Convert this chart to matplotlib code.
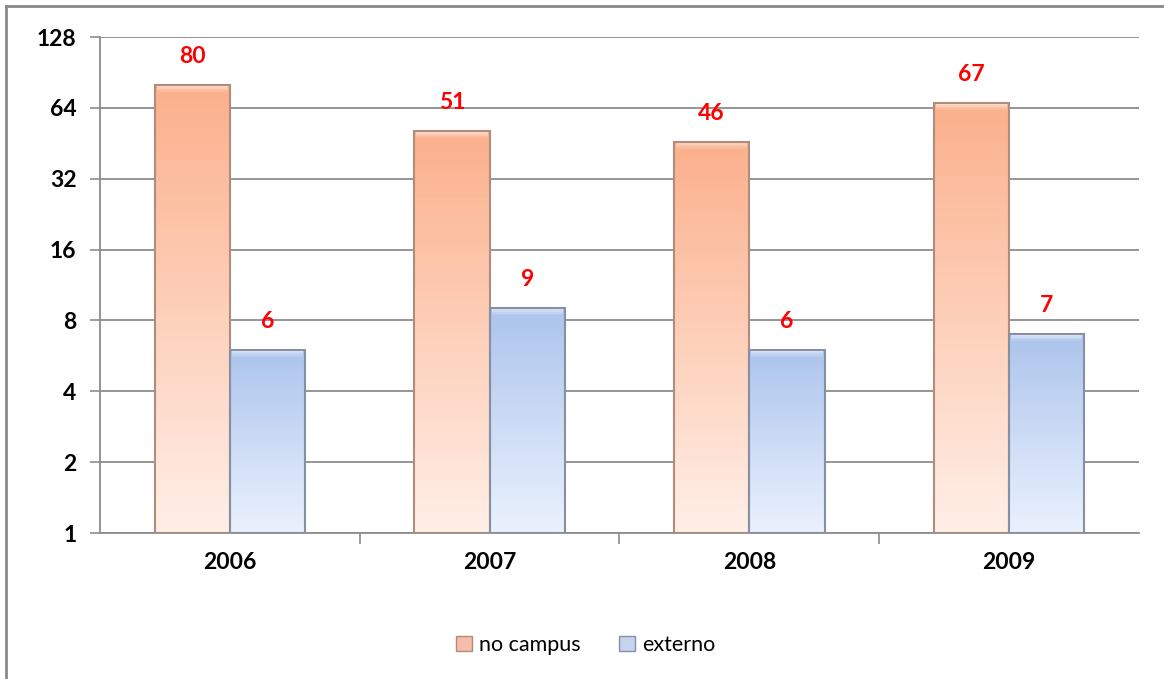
import numpy as np
import matplotlib
matplotlib.use("Agg")
import matplotlib.pyplot as plt
from matplotlib.patches import Patch
from matplotlib.lines import Line2D

years = ["2006", "2007", "2008", "2009"]
no_campus = [80, 51, 46, 67]
externo = [6, 9, 6, 7]
y_ticks = [1, 2, 4, 8, 16, 32, 64, 128]

plt.rcParams['font.family'] = ['Lato', 'DejaVu Sans']

fig = plt.figure(figsize=(11.64, 6.79), dpi=100)
ax = fig.add_axes([0.0859, 0.215, 0.8926, 0.7305])

x = np.arange(len(years))
w = 0.29

# gradient colours: top -> bottom of each bar
orange_top = np.array([251, 176, 140]) / 255
orange_bot = np.array([255, 238, 230]) / 255
blue_top = np.array([172, 196, 236]) / 255
blue_bot = np.array([234, 241, 253]) / 255


def gradient_bar(xl, value, c_top, c_bot, edge, n=60):
    # stack thin slices in log space so the fill fades from top to bottom
    edges = np.logspace(0, np.log2(value), n + 1, base=2)
    for i in range(n):
        t = i / (n - 1)
        col = c_bot * (1 - t) + c_top * t
        ax.bar(xl, edges[i + 1] - edges[i], width=w, bottom=edges[i],
               align='edge', color=col, linewidth=0, zorder=3)
    # soft bevel near the top
    for k, a in enumerate([0.55, 0.4, 0.25, 0.12]):
        lo = value / 2 ** (0.025 * (k + 1))
        hi = value / 2 ** (0.025 * k)
        ax.bar(xl + 0.008, hi - lo, width=w - 0.016, bottom=lo,
               align='edge', color='white', alpha=a, linewidth=0, zorder=4)
    ax.bar(xl, value - 1, width=w, bottom=1, align='edge', fill=False,
           edgecolor=edge, linewidth=1.5, zorder=5)


for i in range(len(years)):
    gradient_bar(x[i] - w, no_campus[i], orange_top, orange_bot, '#b18b7b')
    gradient_bar(x[i], externo[i], blue_top, blue_bot, '#8790a2')
    ax.annotate(str(no_campus[i]), (x[i] - w / 2, no_campus[i]),
                xytext=(0, 13), textcoords='offset points', ha='center',
                va='bottom', color='#ff0000', fontsize=16.5, fontweight='bold')
    ax.annotate(str(externo[i]), (x[i] + w / 2, externo[i]),
                xytext=(0, 13), textcoords='offset points', ha='center',
                va='bottom', color='#ff0000', fontsize=16.5, fontweight='bold')

ax.set_yscale('log', base=2)
ax.set_ylim(1, 128)
ax.set_xlim(-0.5, 3.5)
ax.set_yticks(y_ticks)
ax.set_yticklabels([str(t) for t in y_ticks])
ax.yaxis.set_minor_locator(plt.NullLocator())
ax.set_xticks(x)
ax.set_xticklabels(years)
ax.set_xticks([0.5, 1.5, 2.5], minor=True)

for t in ax.get_yticklabels() + ax.get_xticklabels():
    t.set_fontweight('bold')
    t.set_fontsize(16.5)

ax.grid(axis='y', color='#8c8c8c', linewidth=1.3, zorder=0)
ax.set_axisbelow(True)
ax.tick_params(axis='y', length=7, width=1.2, color='#8c8c8c', pad=10)
ax.tick_params(axis='x', which='major', length=0, pad=14)
ax.tick_params(axis='x', which='minor', length=8, width=1.2, color='#8c8c8c')
for s in ['top', 'right']:
    ax.spines[s].set_visible(False)
for s in ['left', 'bottom']:
    ax.spines[s].set_color('#8c8c8c')
    ax.spines[s].set_linewidth(1.3)

handles = [Patch(facecolor='#f5bca6', edgecolor='#b18b7b', label='no campus'),
           Patch(facecolor='#c6d3ee', edgecolor='#8790a2', label='externo')]
fig.legend(handles=handles, loc='center', bbox_to_anchor=(0.503, 0.05),
           ncol=2, frameon=False, fontsize=15.5, handlelength=0.75,
           handleheight=0.75, handletextpad=0.3, columnspacing=1.8)

# outer frame, visible on the left and top edges
fig.add_artist(Line2D([0.0055, 0.0055], [0, 0.991], transform=fig.transFigure,
                      color='#8a8a8a', linewidth=2))
fig.add_artist(Line2D([0.0055, 1], [0.991, 0.991], transform=fig.transFigure,
                      color='#8a8a8a', linewidth=2))

fig.savefig('out.png', dpi=100)
